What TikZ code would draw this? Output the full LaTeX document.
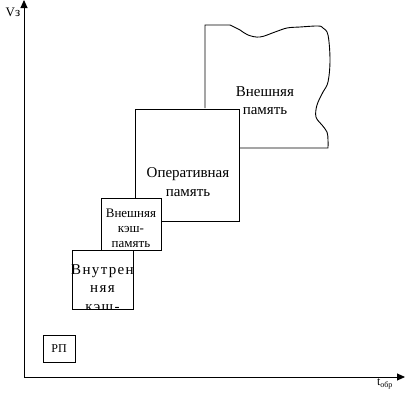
\documentclass[tikz,border=0pt]{standalone}
\usepackage{fontspec}
\setmainfont{Liberation Serif}
\newfontfamily\spacedfont[LetterSpace=9]{Liberation Serif}
\usetikzlibrary{arrows.meta}
\tikzset{
  line/.style={line width=0.9pt, draw=black},
  box/.style={line, fill=white, rectangle, inner sep=0pt},
  lbl/.style={inner sep=0pt, align=center, font=\fontsize{15}{19}\selectfont},
  axis/.style={line, -{Triangle[length=8pt,width=7pt]}},
}
\begin{document}
\begin{tikzpicture}[x=1pt,y=-1pt]
\useasboundingbox (0,0) rectangle (405,400);
% axes
\coordinate (O) at (24,377);
\coordinate (ytop) at (24,0);
\coordinate (xend) at (405,377);
\draw[axis] (O) -- (ytop);
\draw[axis] (O) -- (xend);
\node[inner sep=0pt, font=\fontsize{13}{13}\selectfont] (vlabel) at (13,12) {Vз};
\node[inner sep=0pt, font=\fontsize{12}{12}\selectfont] (tlabel) at (385,384) {t\textsubscript{обр}};
% external memory (torn shape)
\draw[line] (205,108) -- (205,25) -- (230,25)
  plot[smooth, tension=0.6] coordinates {(230,25) (240,30) (248,35) (260,37) (275,32) (287,28) (300,27) (318,26) (323,28) (328,35) (330,60) (328,82) (323,92) (317,105) (316,117) (322,125) (327,132) (328,140) (328,148)}
  -- (240,148);
\node[lbl, font=\fontsize{15}{18}\selectfont] (ext) at (265,101) {Внешняя\\память};
% operative memory
\node[box, minimum width=104pt, minimum height=112pt] (op) at (187,165) {};
\node[lbl] (optext) at (188,182) {Оперативная\\память};
% external cache
\node[box, minimum width=60pt, minimum height=52pt] (ecache) at (131,224) {};
\node[lbl, font=\fontsize{13}{15}\selectfont] (ectext) at (131,228) {Внешняя\\кэш-\\память};
% internal cache
\node[box, minimum width=61pt, minimum height=59pt] (icache) at (102.5,279.5) {};
\begin{scope}
\clip (icache.north west) rectangle (icache.south east);
\node[lbl, font=\fontsize{15}{18.5}\spacedfont] (ictext) at (102.5,288) {Внутрен\\няя\\кэш-};
\end{scope}
% registers
\node[box, minimum width=32pt, minimum height=27pt, font=\fontsize{12}{12}\selectfont] (rp) at (59,348.5) {РП};
\end{tikzpicture}
\end{document}
